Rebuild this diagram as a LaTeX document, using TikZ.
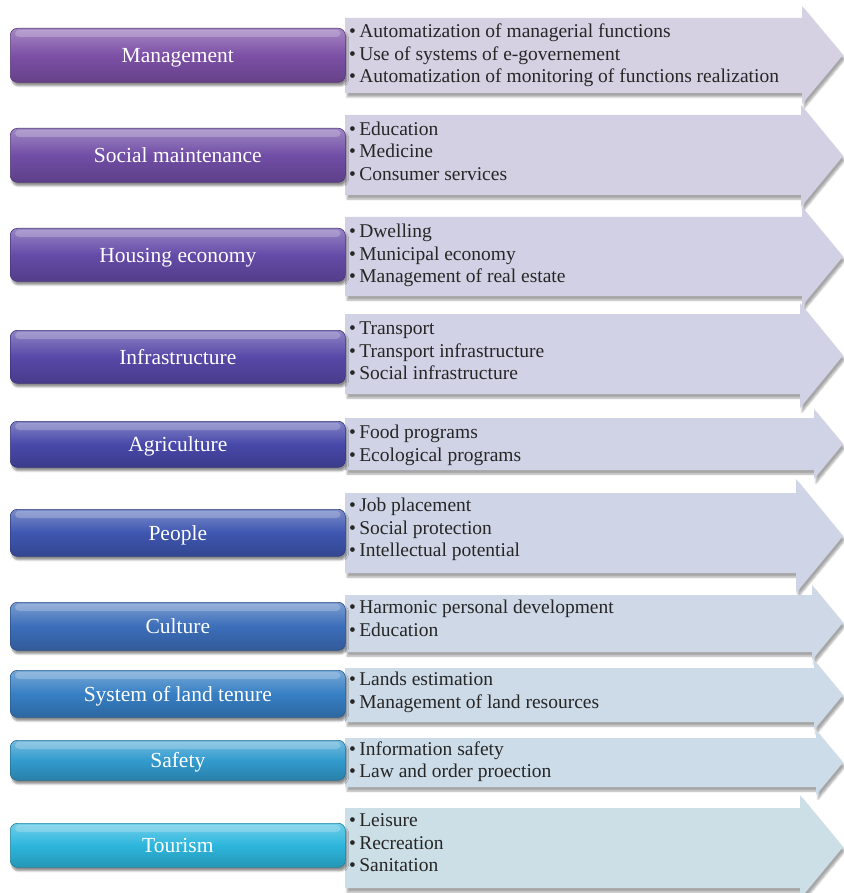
\documentclass[tikz,border=0pt]{standalone}
\usepackage{fontspec}
\setmainfont{Liberation Serif}
\usetikzlibrary{shadows.blur}

% fill colours of the category boxes (purple to cyan)
\definecolor{cA}{RGB}{124,80,166}
\definecolor{cB}{RGB}{113,78,166}
\definecolor{cC}{RGB}{101,75,168}
\definecolor{cD}{RGB}{88,72,168}
\definecolor{cE}{RGB}{72,72,170}
\definecolor{cF}{RGB}{62,86,176}
\definecolor{cG}{RGB}{60,110,186}
\definecolor{cH}{RGB}{55,127,196}
\definecolor{cI}{RGB}{50,155,206}
\definecolor{cJ}{RGB}{45,182,221}
% fill colours of the list arrows
\definecolor{aA}{RGB}{213,208,226}
\definecolor{aB}{RGB}{212,208,227}
\definecolor{aC}{RGB}{210,208,228}
\definecolor{aD}{RGB}{209,210,229}
\definecolor{aE}{RGB}{208,211,230}
\definecolor{aF}{RGB}{207,213,230}
\definecolor{aG}{RGB}{206,216,231}
\definecolor{aH}{RGB}{205,218,231}
\definecolor{aI}{RGB}{204,220,232}
\definecolor{aJ}{RGB}{204,222,230}

\tikzset{
  catbox/.style={rounded corners=7pt, draw=#1!72!black, line width=0.6pt,
    top color=#1!68!white, bottom color=#1!82!black, middle color=#1,
    minimum width=335pt, anchor=north west, inner sep=0pt,
    text height=14.5pt, text depth=0pt,
    text=white, font=\fontsize{21.5}{24}\selectfont,
    blur shadow={shadow xshift=1.5pt, shadow yshift=-3.5pt,
      shadow blur steps=6, shadow opacity=45}},
  gloss/.style={white, opacity=0.22, rounded corners=4pt},
  arrowfill/.style={fill=#1, blur shadow={shadow xshift=2pt,
      shadow yshift=-4pt, shadow blur steps=6, shadow opacity=35}},
  % anchored at the baseline of the last line of the list
  itemtext/.style={anchor=base west, align=left, inner sep=0pt,
    text=black!85, font=\fontsize{19.5}{22.5}\selectfont},
}

% list arrow: body top, body bottom, head top, head bottom, colour, head start x
\newcommand\listarrow[6]{%
  \path[arrowfill=#5] (345,#1) -- (#6,#1) -- (#6,#3) -- (843,{(#3+#4)/2})
    -- (#6,#4) -- (#6,#2) -- (345,#2) -- cycle;}
% category box: name, top, bottom, colour, label
\newcommand\catnode[5]{%
  \node[catbox=#4, minimum height={#3-#2}] (#1) at (10,#2) {#5};
  \fill[gloss] ([xshift=5pt,yshift=-2pt]#1.north west)
    rectangle ([xshift=-5pt,yshift=-9pt]#1.north east);}

\begin{document}
\begin{tikzpicture}[x=1pt, y=-1pt]
\useasboundingbox (0,0) rectangle (843,893);

% Management
\listarrow{18}{93}{6}{104}{aA}{802}
\catnode{mgmt}{28}{82}{cA}{Management}
\node[itemtext] (mgmtlist) at (349,83) {\textbullet\,Automatization of managerial functions\\
  \textbullet\,Use of systems of e-governement\\
  \textbullet\,Automatization of monitoring of functions realization};

% Social maintenance
\listarrow{115}{195}{105}{207}{aB}{801}
\catnode{social}{128}{182}{cB}{Social maintenance}
\node[itemtext] (sociallist) at (349,180.5) {\textbullet\,Education\\
  \textbullet\,Medicine\\
  \textbullet\,Consumer services};

% Housing economy
\listarrow{217}{296}{207}{306}{aC}{802}
\catnode{housing}{228}{281}{cC}{Housing economy}
\node[itemtext] (housinglist) at (349,282.5) {\textbullet\,Dwelling\\
  \textbullet\,Municipal economy\\
  \textbullet\,Management of real estate};

% Infrastructure
\listarrow{314}{394}{303}{408}{aD}{800}
\catnode{infra}{330}{383}{cD}{Infrastructure}
\node[itemtext] (infralist) at (349,379.5) {\textbullet\,Transport\\
  \textbullet\,Transport infrastructure\\
  \textbullet\,Social infrastructure};

% Agriculture
\listarrow{418}{470}{409}{479}{aE}{814}
\catnode{agri}{421}{467}{cE}{Agriculture}
\node[itemtext] (agrilist) at (349,461) {\textbullet\,Food programs\\
  \textbullet\,Ecological programs};

% People
\listarrow{493}{573}{479}{593}{aF}{796}
\catnode{people}{509}{556}{cF}{People}
\node[itemtext] (peoplelist) at (349,556.5) {\textbullet\,Job placement\\
  \textbullet\,Social protection\\
  \textbullet\,Intellectual potential};

% Culture
\listarrow{595}{652}{585}{660}{aG}{812}
\catnode{culture}{602}{650}{cG}{Culture}
\node[itemtext] (culturelist) at (349,636) {\textbullet\,Harmonic personal development\\
  \textbullet\,Education};

% System of land tenure
\listarrow{668}{722}{660}{730}{aH}{814}
\catnode{land}{670}{717}{cH}{System of land tenure}
\node[itemtext] (landlist) at (349,708) {\textbullet\,Lands estimation\\
  \textbullet\,Management of land resources};

% Safety
\listarrow{738}{787}{730}{795}{aI}{816}
\catnode{safety}{740}{780}{cI}{Safety}
\node[itemtext] (safetylist) at (349,777.5) {\textbullet\,Information safety\\
  \textbullet\,Law and order proection};

% Tourism
\listarrow{808}{888}{795}{899}{aJ}{800}
\catnode{tourism}{823}{867}{cJ}{Tourism}
\node[itemtext] (tourismlist) at (349,871.5) {\textbullet\,Leisure\\
  \textbullet\,Recreation\\
  \textbullet\,Sanitation};
\end{tikzpicture}
\end{document}
